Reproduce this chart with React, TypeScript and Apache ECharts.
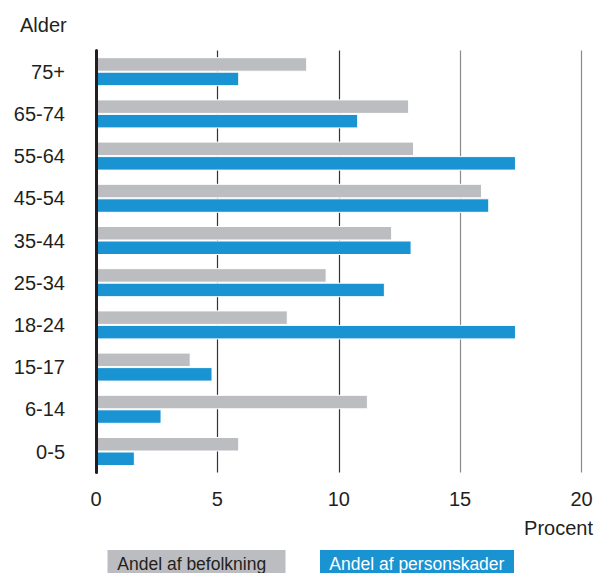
import React, { useEffect, useRef } from "react";
import * as echarts from "echarts";

const categories = ["75+", "65-74", "55-64", "45-54", "35-44", "25-34", "18-24", "15-17", "6-14", "0-5"];
const befolkning = [8.7, 12.9, 13.1, 15.9, 12.2, 9.5, 7.9, 3.9, 11.2, 5.9];
const personskader = [5.9, 10.8, 17.3, 16.2, 13.0, 11.9, 17.3, 4.8, 2.7, 1.6];
const xTicks = [0, 5, 10, 15, 20];

const GREY = "#bcbdc0";
const BLUE = "#1a93d2";
const TEXT = "#231f20";
const FONT = "'Liberation Sans', Arial, Helvetica, sans-serif";

export default function App() {
  const ref = useRef<HTMLDivElement>(null);
  useEffect(() => {
    if (!ref.current) return;
    const chart = echarts.init(ref.current, null, { renderer: "svg" });
    chart.setOption({
      animation: false,
      backgroundColor: "#fff",
      textStyle: { fontFamily: FONT },
      grid: { left: 96, right: 16.5, top: 50.6, bottom: 100.4, containLabel: false },
      xAxis: {
        type: "value",
        min: xTicks[0],
        max: xTicks[xTicks.length - 1],
        interval: 5,
        axisLine: { show: false },
        axisTick: { show: false },
        axisLabel: { color: TEXT, fontSize: 20, fontFamily: FONT, margin: 16 },
        splitLine: {
          show: true,
          lineStyle: { color: ["#333", "#333", "#333", "#8a8a8a", "#8a8a8a"], width: 1.2 },
        },
      },
      yAxis: {
        type: "category",
        data: categories,
        inverse: true,
        z: 5,
        axisLine: { show: true, lineStyle: { color: "#231f20", width: 3 } },
        axisTick: { show: false },
        axisLabel: { color: TEXT, fontSize: 20, fontFamily: FONT, margin: 31 },
      },
      series: [
        {
          name: "Andel af befolkning",
          type: "bar",
          data: befolkning,
          barWidth: 14.5,
          barGap: "0%",
          itemStyle: { color: GREY, borderColor: "#fff", borderWidth: 1 },
        },
        {
          name: "Andel af personskader",
          type: "bar",
          data: personskader,
          barWidth: 14.5,
          barGap: "0%",
          itemStyle: { color: BLUE, borderColor: "#fff", borderWidth: 1 },
        },
      ],
      graphic: [
        {
          type: "text",
          left: 20,
          top: 15,
          style: { text: "Alder", fontSize: 20, fontFamily: FONT, fill: TEXT },
        },
        {
          type: "text",
          x: 593,
          y: 528,
          style: { text: "Procent", fontSize: 20, fontFamily: FONT, fill: TEXT, align: "right", verticalAlign: "middle" },
        },
        {
          type: "rect",
          shape: { x: 107.5, y: 550, width: 178, height: 30 },
          style: { fill: GREY },
        },
        {
          type: "text",
          x: 117.3,
          y: 564,
          style: { text: "Andel af befolkning", fontSize: 17.5, fontFamily: FONT, fill: TEXT, verticalAlign: "middle" },
        },
        {
          type: "rect",
          shape: { x: 320, y: 550, width: 194, height: 30 },
          style: { fill: BLUE },
        },
        {
          type: "text",
          x: 329.3,
          y: 564,
          style: { text: "Andel af personskader", fontSize: 17.5, fontFamily: FONT, fill: "#fff", verticalAlign: "middle" },
        },
      ],
    });
    return () => chart.dispose();
  }, []);
  return <div ref={ref} style={{ width: 598, height: 573, position: "absolute", left: 0, top: 0 }} />;
}
